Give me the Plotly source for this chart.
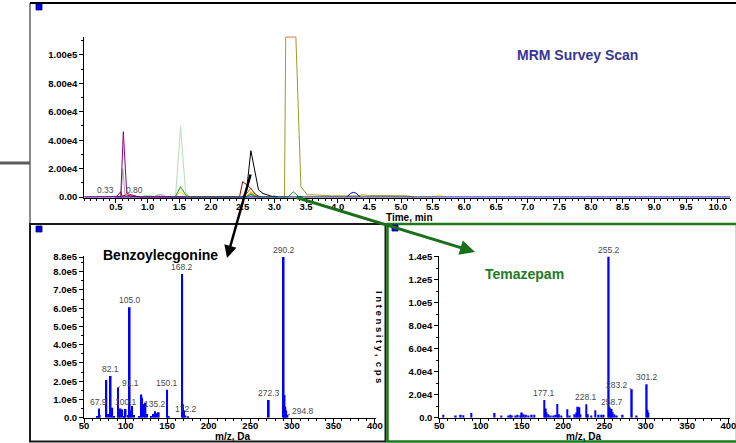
import plotly.graph_objects as go

# ---------------- data: MRM survey scan (time in min, intensity in cps) -------------
purple_t = [0.50, 0.575, 0.616, 0.67, 0.72, 0.80, 0.86]
purple_v = [0, 0, 46000, 2500, 1800, 900, 0]
grey_t = [0.55, 0.58, 0.608, 0.645, 0.70]
grey_v = [0, 0, 20000, 0, 0]
darkred_t = [0.50, 0.575, 0.60, 0.66, 0.72, 0.80, 0.90, 2.45, 2.50, 2.56, 2.63, 2.70, 2.77]
darkred_v = [0, 3700, 500, 1500, 800, 300, 0, 0, 10800, 8800, 6000, 2000, 0]
red_t = [0.0, 0.18, 0.30, 0.45, 0.58, 1.70, 1.85, 2.00, 2.20, 2.40, 2.55, 2.63, 2.70, 2.80]
red_v = [0, 300, 500, 300, 0, 0, 500, 350, 500, 300, 0, 3000, 800, 0]
mint_t = [1.40, 1.44, 1.52, 1.60, 1.66]
mint_v = [0, 0, 49500, 3000, 0]
green_t = [1.38, 1.44, 1.52, 1.60, 1.66, 2.55, 2.63, 2.72, 3.22, 3.30, 3.38, 3.45]
green_v = [0, 500, 7300, 1500, 0, 0, 2000, 0, 0, 3700, 500, 0]
lime_t = [0.90, 0.95, 1.05, 1.10]
lime_v = [0, 700, 700, 0]
yellow_t = [1.42, 1.52, 1.62, 2.55, 2.63, 2.72, 5.50, 5.60, 5.70]
yellow_v = [0, 3700, 0, 0, 4000, 0, 0, 1400, 0]
black_t = [2.50, 2.56, 2.63, 2.75, 2.82, 2.90, 2.97, 3.05]
black_v = [0, 4000, 32600, 5000, 2500, 1500, 300, 0]
brown_t = [2.52, 2.63, 2.73]
brown_v = [0, 6100, 0]
cyan_t = [2.55, 2.63, 2.70]
cyan_v = [0, 1500, 0]
grey2_t = [1.10, 1.15, 1.20, 1.25, 1.30, 2.90, 3.00, 3.06]
grey2_v = [0, 1200, 1500, 1200, 0, 0, 800, 0]
olive_t = [3.10, 3.16, 3.18, 3.34, 3.42, 3.52, 3.62, 3.75, 3.90, 4.10, 4.30, 4.40, 4.50, 4.80, 5.10, 5.20]
olive_v = [0, 0, 112700, 112700, 7300, 1500, 1500, 1000, 800, 800, 800, 1500, 1000, 1000, 800, 0]
salmon_t = [3.18, 3.34]
salmon_v = [112700, 112700]
blue_t = [4.15, 4.20, 4.25, 4.30, 4.35]
blue_v = [0, 2500, 3300, 2500, 0]
base_t = [0.0, 10.2]
base_v = [0, 0]
chrom_label_t = [0.33, 0.80]
chrom_label_text = ["0.33", "0.80"]

chrom_xticks = [0.5 * i for i in range(1, 21)]
chrom_yticks = [0, 20000, 40000, 60000, 80000, 100000]
chrom_ytext = ["0.00", "2.00e4", "4.00e4", "6.00e4", "8.00e4", "1.00e5"]

# ---------------- data: Benzoylecgonine product ion spectrum -------------
bz_mz = [66, 67.9, 69, 77, 79, 82.1, 84, 86, 91.1, 92, 94, 96, 98, 100.1, 103, 105.0, 106, 108, 110,
         117, 119, 120, 122, 124, 126, 131, 133, 135.2, 137, 140, 150.1, 152, 168.2, 169.3, 170.3,
         172.2, 175, 272.3, 290.2, 291.3, 292.3, 293.3, 294.8]
bz_int = [10000, 50000, 15000, 207000, 20000, 228000, 55000, 10000, 165000, 45000, 50000, 45000, 10000,
          48000, 15000, 605000, 40000, 64000, 15000, 10000, 127000, 110000, 75000, 82000, 20000, 10000,
          20000, 35000, 25000, 30000, 153000, 10000, 787000, 72000, 40000, 12000, 5000, 97000, 880000,
          125000, 60000, 40000, 15000]
bz_lab_mz = [67.9, 82.1, 100.1, 105.0, 135.2, 150.1, 168.2, 172.2, 272.3, 290.2]
bz_lab_int = [50000, 228000, 48000, 605000, 35000, 153000, 787000, 12000, 97000, 880000]
bz_lead_mz = [91.1, 294.8]
bz_lead_int = [165000, 15000]
bz_yticks = [0, 1e5, 2e5, 3e5, 4e5, 5e5, 6e5, 7e5, 8e5, 8.8e5]
bz_ytext = ["0.0", "1.0e5", "2.0e5", "3.0e5", "4.0e5", "5.0e5", "6.0e5", "7.0e5", "8.0e5", "8.8e5"]

# ---------------- data: Temazepam product ion spectrum -------------
tz_mz = [55, 70, 76, 79, 89, 117, 125, 134, 136, 138, 142, 145, 148, 150, 152, 155, 158, 162, 165,
         177.1, 179, 180, 182, 185, 188, 191, 193, 195, 198, 205, 208, 214, 216, 218, 219.5, 221,
         228.1, 230, 234, 239, 243, 246, 249, 255.2, 256.2, 257.2, 258.7, 260, 262, 265, 272,
         283.2, 289, 301.2, 302.2, 303.2]
tz_int = [2500, 2000, 2500, 2200, 4000, 4000, 2000, 2000, 2500, 2000, 2000, 2500, 2000, 4500, 3000, 2500,
          2000, 2500, 2500, 15400, 8000, 4500, 3000, 2000, 2000, 2500, 11900, 3000, 2000, 7300, 2000,
          3000, 4500, 9500, 9000, 3000, 11700, 3000, 2000, 6500, 2500, 2500, 2500, 140000, 9000, 8000,
          7500, 5000, 3000, 2000, 2500, 24700, 2000, 29000, 7000, 4500]
tz_lab_mz = [177.1, 228.1, 255.2, 258.7, 301.2]
tz_lab_int = [15400, 11700, 140000, 7500, 29000]
tz_lead_mz = [283.2]
tz_lead_int = [24700]
tz_yticks = [0, 2e4, 4e4, 6e4, 8e4, 1e5, 1.2e5, 1.4e5]
tz_ytext = ["0.0", "2.0e4", "4.0e4", "6.0e4", "8.0e4", "1.0e5", "1.2e5", "1.4e5"]
ms_xticks = [50, 100, 150, 200, 250, 300, 350, 400]

# ---------------- figure -------------
W, H = 736, 443
FONT = "Liberation Sans, Arial, sans-serif"


def X(p):
    return p / W


def Y(p):
    return 1 - p / H


fig = go.Figure()

chrom = [
    (red_t, red_v, "#ff2020"),
    (grey2_t, grey2_v, "#8c8c8c"),
    (lime_t, lime_v, "#22dd22"),
    (mint_t, mint_v, "#b8dcb8"),
    (grey_t, grey_v, "#a8a8a8"),
    (purple_t, purple_v, "#8b008b"),
    (darkred_t, darkred_v, "#a00000"),
    (yellow_t, yellow_v, "#e8e800"),
    (cyan_t, cyan_v, "#00c8d0"),
    (brown_t, brown_v, "#8b6a10"),
    (black_t, black_v, "#000000"),
    (green_t, green_v, "#1a961a"),
    (olive_t, olive_v, "#a09a28"),
    (salmon_t, salmon_v, "#f08a80"),
    (blue_t, blue_v, "#0000cc"),
    (base_t, base_v, "#0000cc"),
]
for t, v, c in chrom:
    fig.add_trace(go.Scatter(x=t, y=v, mode="lines", line=dict(color=c, width=1),
                             xaxis="x", yaxis="y", showlegend=False, hoverinfo="skip"))

fig.add_trace(go.Bar(x=bz_mz, y=bz_int, width=2.0, marker=dict(color="#0000ff", line=dict(width=0)),
                     xaxis="x2", yaxis="y2", showlegend=False))
fig.add_trace(go.Bar(x=tz_mz, y=tz_int, width=2.0, marker=dict(color="#0000ff", line=dict(width=0)),
                     xaxis="x3", yaxis="y3", showlegend=False))

tickfont = dict(family=FONT, size=9.5, color="black", weight="bold")
common = dict(showgrid=False, zeroline=False, showline=True, linecolor="black", linewidth=1,
              ticks="outside", ticklen=4, tickwidth=1, tickcolor="black", tickfont=tickfont,
              automargin=False, ticklabeloverflow="allow")
xmin = dict(ticks="outside", ticklen=2, tickcolor="black")

fig.update_layout(
    width=W, height=H, autosize=False,
    margin=dict(l=0, r=0, t=0, b=0, pad=0),
    paper_bgcolor="white", plot_bgcolor="white",
    showlegend=False, barmode="overlay",
    xaxis=dict(domain=[X(84.3), X(730.4)], range=[0, 10.2], anchor="y", ticklabelstandoff=-4,
               tickmode="array", tickvals=chrom_xticks, ticktext=[f"{v:.1f}" for v in chrom_xticks],
               minor=dict(tickmode="linear", tick0=0, dtick=0.1, **xmin), **common),
    yaxis=dict(domain=[Y(197.85), Y(36.5)], range=[-600, 113000], anchor="x",
               tickmode="array", tickvals=chrom_yticks, ticktext=chrom_ytext,
               minor=dict(tickmode="linear", tick0=0, dtick=10000, **xmin), **common),
    xaxis2=dict(domain=[X(84), X(375.8)], range=[50, 401], anchor="y2", ticklabelstandoff=-5,
                tickmode="array", tickvals=ms_xticks, ticktext=[str(v) for v in ms_xticks],
                minor=dict(tickmode="linear", tick0=50, dtick=10, **xmin), **common),
    yaxis2=dict(domain=[Y(417.7), Y(256.2)], range=[0, 885000], anchor="x2",
                tickmode="array", tickvals=bz_yticks, ticktext=bz_ytext,
                minor=dict(tickmode="linear", tick0=0, dtick=50000, **xmin), **common),
    xaxis3=dict(domain=[X(439.3), X(730)], range=[50, 402], anchor="y3", ticklabelstandoff=-5,
                tickmode="array", tickvals=ms_xticks, ticktext=[str(v) for v in ms_xticks],
                minor=dict(tickmode="linear", tick0=50, dtick=10, **xmin), **common),
    yaxis3=dict(domain=[Y(417.7), Y(255.5)], range=[0, 141000], anchor="x3",
                tickmode="array", tickvals=tz_yticks, ticktext=tz_ytext,
                minor=dict(tickmode="linear", tick0=0, dtick=10000, **xmin), **common),
)

P = dict(xref="paper", yref="paper")
shapes = [
    # top panel frame
    dict(type="line", x0=X(30), x1=X(30), y0=Y(3), y1=Y(224), line=dict(color="#8a8a8a", width=2), **P),
    dict(type="line", x0=X(30), x1=X(737), y0=Y(3), y1=Y(3), line=dict(color="black", width=2), **P),
    # stray grey line at left
    dict(type="line", x0=X(0), x1=X(30), y0=Y(163), y1=Y(163), line=dict(color="#5a5a5a", width=3), **P),
    # bottom-left frame
    dict(type="rect", x0=X(30), x1=X(385.5), y0=Y(441.5), y1=Y(224),
         line=dict(color="#1a1a1a", width=2), **P),
    # bottom-right frame
    dict(type="rect", x0=X(387.5), x1=X(737), y0=Y(441.5), y1=Y(224),
         line=dict(color="#1c7a1c", width=2.5), **P),
    # little blue squares
    dict(type="rect", x0=X(36), x1=X(42), y0=Y(10), y1=Y(4), fillcolor="#0000ee",
         line=dict(color="#000066", width=0.8), **P),
    dict(type="rect", x0=X(36), x1=X(42), y0=Y(232), y1=Y(226), fillcolor="#0000ee",
         line=dict(color="#000066", width=0.8), **P),
    dict(type="rect", x0=X(392), x1=X(398), y0=Y(231), y1=Y(225), fillcolor="#0000ee",
         line=dict(color="#000066", width=0.8), **P),
]
fig.update_layout(shapes=shapes)

lab_font = dict(family=FONT, size=8.5, color="#4a4a4a")
ann = []
for t, s in zip(chrom_label_t, chrom_label_text):
    ann.append(dict(x=t, y=0, xref="x", yref="y", text=s, showarrow=False, yanchor="bottom",
                    yshift=0, font=lab_font))
for m, v in zip(bz_lab_mz, bz_lab_int):
    ann.append(dict(x=m, y=v, xref="x2", yref="y2", text=f"{m:.1f}", showarrow=False,
                    yanchor="bottom", font=lab_font))
for m, v, dx, dy in zip(bz_lead_mz, bz_lead_int, [12, 15], [-5, -4]):
    ann.append(dict(x=m, y=v, xref="x2", yref="y2", text=f"{m:.1f}", showarrow=True, arrowhead=0,
                    arrowwidth=0.8, arrowcolor="#333333", ax=dx, ay=dy, font=lab_font, standoff=0))
for m, v in zip(tz_lab_mz, tz_lab_int):
    ann.append(dict(x=m, y=v, xref="x3", yref="y3", text=f"{m:.1f}", showarrow=False,
                    yanchor="bottom", font=lab_font))
for m, v in zip(tz_lead_mz, tz_lead_int):
    ann.append(dict(x=m, y=v, xref="x3", yref="y3", text=f"{m:.1f}", showarrow=True, arrowhead=0,
                    arrowwidth=0.8, arrowcolor="#333333", ax=-15, ay=-4, font=lab_font, standoff=0))

title_font = dict(family=FONT, size=10, color="black", weight="bold")
C = dict(xanchor="center", yanchor="middle", showarrow=False, **P)
ann += [
    dict(x=X(409), y=Y(217.5), text="Time, min", font=title_font, **C),
    dict(x=X(232), y=Y(436.5), text="m/z, Da", font=title_font, **C),
    dict(x=X(583), y=Y(436.5), text="m/z, Da", font=title_font, **C),
    dict(x=X(380), y=Y(337), text="I n t e n s i t y ,  c p s", textangle=90,
         font=dict(family=FONT, size=9.5, color="black", weight="bold"), **C),
    dict(x=X(577), y=Y(55), text="MRM Survey Scan",
         font=dict(family=FONT, size=14, color="#363696", weight="bold"), **C),
    dict(x=X(160), y=Y(254.5), text="Benzoylecgonine",
         font=dict(family=FONT, size=14, color="black", weight="bold"), **C),
    dict(x=X(524.5), y=Y(274), text="Temazepam",
         font=dict(family=FONT, size=14, color="#1f7a1f", weight="bold"), **C),
    # arrows
    dict(x=X(227), y=Y(258), text="", showarrow=True, ax=24, ay=-85, arrowhead=2, arrowsize=1,
         arrowwidth=2.5, arrowcolor="black", **P),
    dict(x=X(475), y=Y(252), text="", showarrow=True, ax=-180, ay=-55, arrowhead=2, arrowsize=1,
         arrowwidth=3, arrowcolor="#1a701a", **P),
]
fig.update_layout(annotations=ann)

fig.write_html("out.html", config={"displayModeBar": False},
               post_script="document.body.style.margin='0px';document.body.style.overflow='hidden';")
